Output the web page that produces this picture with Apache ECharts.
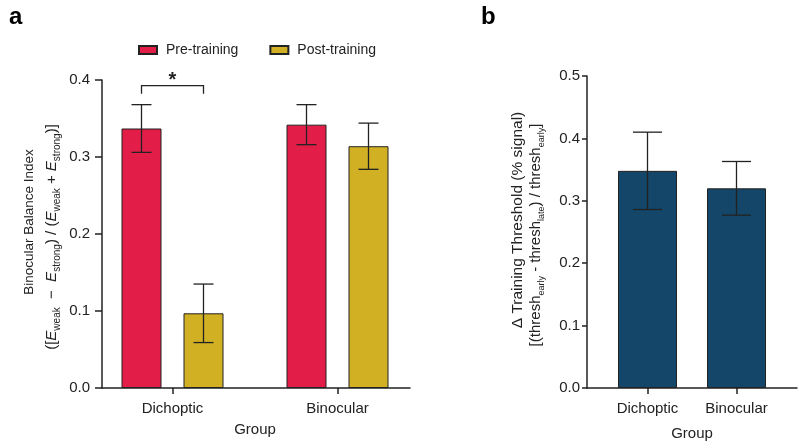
<!DOCTYPE html>
<html>
<head>
<meta charset="utf-8">
<script src="https://cdn.jsdelivr.net/npm/echarts@6/dist/echarts.min.js"></script>
<style>
  html, body { margin: 0; padding: 0; background: #fff; }
  #main { width: 800px; height: 444px; }
</style>
</head>
<body>
<div id="main"></div>
<script>
// data
var groups = ['Dichoptic', 'Binocular']
var preMean = [0.337, 0.342]
var preErr = [0.031, 0.026]
var postMean = [0.097, 0.314]
var postErr = [0.038, 0.030]
var deltaMean = [0.348, 0.320]
var deltaErr = [0.062, 0.043]
var sigBracket = [[0, 0.3926, 0.382, 0.405]] // category, bracket y, leg bottom, star y

var font = 'Liberation Sans, Arial, sans-serif'
var ink = '#222'
var red = '#E11D48'
var gold = '#D2B023'
var blue = '#134668'

var chart = echarts.init(document.getElementById('main'))

// error bar renderer, offset = px shift from category centre
function errBars(offset, cap) {
  return function (params, api) {
    var i = api.value(0)
    var top = api.coord([i, api.value(1) + api.value(2)])
    var bot = api.coord([i, api.value(1) - api.value(2)])
    var x = top[0] + offset
    var st = { stroke: ink, lineWidth: 1.3 }
    return {
      type: 'group',
      children: [
        { type: 'line', shape: { x1: x, y1: top[1], x2: x, y2: bot[1] }, style: st },
        { type: 'line', shape: { x1: x - cap / 2, y1: top[1], x2: x + cap / 2, y2: top[1] }, style: st },
        { type: 'line', shape: { x1: x - cap / 2, y1: bot[1], x2: x + cap / 2, y2: bot[1] }, style: st }
      ]
    }
  }
}

function errData(means, errs) {
  return means.map(function (m, i) { return [i, m, errs[i]] })
}

var barA = 40
var gapA = 0.55
var offA = (barA + barA * gapA) / 2

var richA = {
  i: { fontStyle: 'italic', fontSize: 15, fontFamily: font, color: ink, lineHeight: 20 },
  s: { fontSize: 10, fontFamily: font, color: ink, verticalAlign: 'bottom', lineHeight: 11 }
}
var richB = {
  s: { fontSize: 9, fontFamily: font, color: ink, verticalAlign: 'bottom', lineHeight: 10 }
}

var hiddenAxis = {
  axisLine: { show: false },
  axisTick: { show: false },
  axisLabel: { show: false },
  splitLine: { show: false }
}

var option = {
  animation: false,
  textStyle: { fontFamily: font },
  title: [
    { text: 'a', left: 4, top: 0, textStyle: { fontSize: 24, fontWeight: 'bold', color: '#000', fontFamily: font } },
    { text: 'b', left: 476, top: 0, textStyle: { fontSize: 24, fontWeight: 'bold', color: '#000', fontFamily: font } }
  ],
  legend: {
    data: ['Pre-training', 'Post-training'],
    left: 138,
    top: 43,
    padding: 0,
    icon: 'rect',
    itemWidth: 18,
    itemHeight: 8,
    itemGap: 31,
    textStyle: { fontSize: 14, color: ink, fontFamily: font, padding: [0, 0, 0, 4] }
  },
  grid: [
    { left: 90, top: 80, width: 330, height: 308, outerBoundsMode: 'none' },
    { left: 102, top: 80, width: 308, height: 308, outerBoundsMode: 'none' },
    { left: 603, top: 76, width: 178, height: 312, outerBoundsMode: 'none' },
    { left: 587, top: 76, width: 210, height: 312, outerBoundsMode: 'none' }
  ],
  xAxis: [
    {
      type: 'category', gridIndex: 0, data: groups,
      axisLine: { show: false },
      axisTick: { show: true, alignWithLabel: true, length: 6, lineStyle: { color: ink, width: 1.5 } },
      axisLabel: { fontSize: 15, color: ink, margin: 13 },
      name: 'Group', nameLocation: 'middle', nameGap: 34,
      nameTextStyle: { fontSize: 15, color: ink }
    },
    {
      type: 'value', gridIndex: 1, min: 0, max: 1,
      axisLine: { show: true, lineStyle: { color: ink, width: 1.5 } },
      axisTick: { show: false }, axisLabel: { show: false }, splitLine: { show: false }
    },
    {
      type: 'category', gridIndex: 2, data: groups,
      axisLine: { show: false },
      axisTick: { show: true, alignWithLabel: true, length: 6, lineStyle: { color: ink, width: 1.5 } },
      axisLabel: { fontSize: 15, color: ink, margin: 13 },
      name: 'Group', nameLocation: 'middle', nameGap: 38,
      nameTextStyle: { fontSize: 15, color: ink }
    },
    {
      type: 'value', gridIndex: 3, min: 0, max: 1,
      axisLine: { show: true, lineStyle: { color: ink, width: 1.5 } },
      axisTick: { show: false }, axisLabel: { show: false }, splitLine: { show: false }
    }
  ],
  yAxis: [
    Object.assign({
      type: 'value', gridIndex: 0, min: 0, max: 0.4,
      name: 'Binocular Balance Index', nameLocation: 'middle', nameGap: 54,
      nameTextStyle: { fontSize: 13.5, color: ink, padding: [0, 0, 0, 24] }
    }, hiddenAxis),
    {
      type: 'value', gridIndex: 1, min: 0, max: 0.4, interval: 0.1,
      axisLine: { show: true, lineStyle: { color: ink, width: 1.5 } },
      axisTick: { show: true, length: 7, lineStyle: { color: ink, width: 1.5 } },
      axisLabel: { fontSize: 15, color: ink, margin: 12, formatter: function (v) { return v.toFixed(1) } },
      splitLine: { show: false },
      name: '([{i|E}{s|weak}  −  {i|E}{s|strong}) / ({i|E}{s|weak} + {i|E}{s|strong})]',
      nameLocation: 'middle', nameGap: 40,
      nameTextStyle: { fontSize: 15, color: ink, lineHeight: 20, padding: [0, 6, 0, 0], rich: richA }
    },
    Object.assign({
      type: 'value', gridIndex: 2, min: 0, max: 0.5,
      name: 'Δ Training Threshold (% signal)', nameLocation: 'middle', nameGap: 77,
      nameTextStyle: { fontSize: 15.5, color: ink, padding: [0, 0, 0, 24] }
    }, hiddenAxis),
    {
      type: 'value', gridIndex: 3, min: 0, max: 0.5, interval: 0.1,
      axisLine: { show: true, lineStyle: { color: ink, width: 1.5 } },
      axisTick: { show: true, length: 5, lineStyle: { color: ink, width: 1.5 } },
      axisLabel: { fontSize: 15, color: ink, margin: 7, formatter: function (v) { return v.toFixed(1) } },
      splitLine: { show: false },
      name: '[(thresh{s|early} - thresh{s|late}) / thresh{s|early}]',
      nameLocation: 'middle', nameGap: 41,
      nameTextStyle: { fontSize: 15, color: ink, lineHeight: 20, padding: [0, 6, 0, 0], rich: richB }
    }
  ],
  series: [
    {
      name: 'Pre-training', type: 'bar', xAxisIndex: 0, yAxisIndex: 0,
      data: preMean, barWidth: barA, barGap: (gapA * 100) + '%',
      itemStyle: { color: red, borderColor: ink, borderWidth: 1 }
    },
    {
      name: 'Post-training', type: 'bar', xAxisIndex: 0, yAxisIndex: 0,
      data: postMean, barWidth: barA, barGap: (gapA * 100) + '%',
      itemStyle: { color: gold, borderColor: ink, borderWidth: 1 }
    },
    {
      type: 'custom', xAxisIndex: 0, yAxisIndex: 0, z: 5,
      data: errData(preMean, preErr), renderItem: errBars(-offA, 20)
    },
    {
      type: 'custom', xAxisIndex: 0, yAxisIndex: 0, z: 5,
      data: errData(postMean, postErr), renderItem: errBars(offA, 20)
    },
    {
      type: 'custom', xAxisIndex: 0, yAxisIndex: 0, z: 5,
      data: sigBracket,
      renderItem: function (params, api) {
        var i = api.value(0)
        var p = api.coord([i, api.value(1)])
        var q = api.coord([i, api.value(2)])
        var s = api.coord([i, api.value(3)])
        var x1 = p[0] - offA, x2 = p[0] + offA
        return {
          type: 'group',
          children: [
            {
              type: 'polyline',
              shape: { points: [[x1, q[1]], [x1, p[1]], [x2, p[1]], [x2, q[1]]] },
              style: { stroke: ink, lineWidth: 1.3, fill: null }
            },
            {
              type: 'text',
              style: { text: '*', x: p[0], y: s[1] + 4, align: 'center', verticalAlign: 'middle', fontSize: 20, fontWeight: 'bold', fill: ink, fontFamily: font }
            }
          ]
        }
      }
    },
    {
      name: 'Delta', type: 'bar', xAxisIndex: 2, yAxisIndex: 2,
      data: deltaMean, barWidth: 59,
      itemStyle: { color: blue, borderColor: ink, borderWidth: 1 }
    },
    {
      type: 'custom', xAxisIndex: 2, yAxisIndex: 2, z: 5,
      data: errData(deltaMean, deltaErr), renderItem: errBars(0, 29)
    }
  ]
}

chart.setOption(option)
</script>
</body>
</html>
